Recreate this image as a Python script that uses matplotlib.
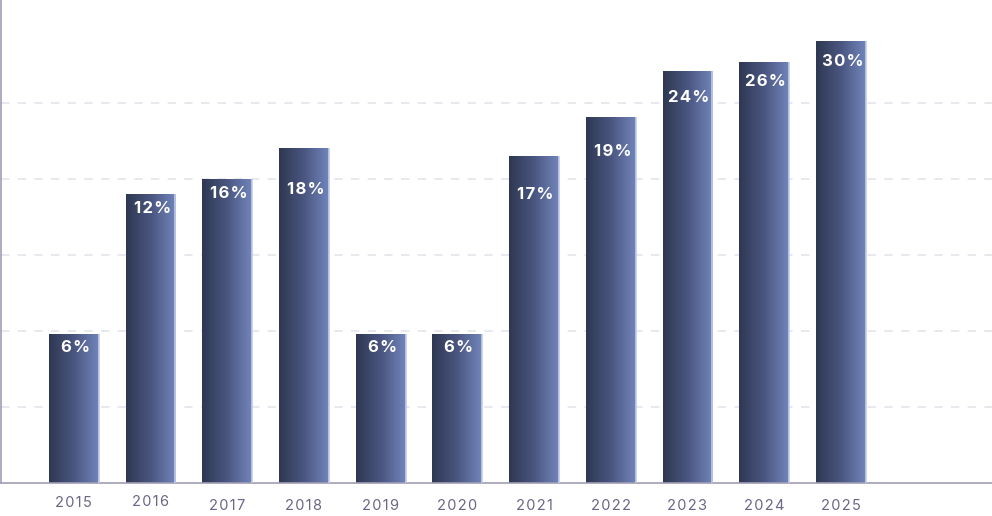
import numpy as np
import matplotlib.pyplot as plt
from matplotlib.colors import LinearSegmentedColormap

# data
years = ["2015", "2016", "2017", "2018", "2019", "2020",
         "2021", "2022", "2023", "2024", "2025"]
bar_heights = [1.96, 3.80, 4.0, 4.41, 1.96, 1.96, 4.30, 4.82, 5.42, 5.55, 5.82]
bar_labels = ["6%", "12%", "16%", "18%", "6%", "6%",
              "17%", "19%", "24%", "26%", "30%"]

# where the labels sit (the source places them unevenly)
label_y = [1.78, 3.62, 3.81, 3.87, 1.78, 1.78, 3.80, 4.37, 5.08, 5.29, 5.55]
tick_y = [-0.26, -0.25, -0.30, -0.30, -0.30, -0.30, -0.30, -0.30, -0.30, -0.30, -0.30]

plt.rcParams['font.family'] = ['Inter', 'DejaVu Sans']

fig = plt.figure(figsize=(9.92, 5.16), dpi=100)
ax = fig.add_axes([1 / 992, 33 / 516, 991 / 992, 483 / 516])

cmap = LinearSegmentedColormap.from_list("bar", ["#2e3852", "#4a5680", "#7185bb"])
grad = np.linspace(0, 1, 256).reshape(1, -1)

x = np.arange(len(years))
width = 0.65
bars = ax.bar(x, bar_heights, width=width, color="none", edgecolor="none", zorder=2)

for b, lab, ly in zip(bars, bar_labels, label_y):
    x0, w, h = b.get_x(), b.get_width(), b.get_height()
    im = ax.imshow(grad, extent=[x0, x0 + w, 0, h], aspect="auto",
                   cmap=cmap, zorder=2, interpolation="bilinear")
    im.set_clip_path(b)
    # thin light edge on the right side
    ax.plot([x0 + w, x0 + w], [0, h], color="#c3cbe8", lw=1.2, zorder=3,
            solid_capstyle="butt")
    txt = "\u200a".join(lab)
    ax.text(x0 + w / 2 + 0.02, ly, txt, color="white", fontsize=12,
            fontweight="bold", ha="center", va="center", zorder=4)

# dashed grid
for gy in [1, 2, 3, 4, 5]:
    ax.axhline(gy, color="#e4e4ec", lw=1.2, ls=(0, (5, 5)), zorder=1)

ax.set_xlim(-0.95, len(years) - 1 + 1.97)
ax.set_ylim(0, 6.36)

for s in ["top", "right"]:
    ax.spines[s].set_visible(False)
for s in ["left", "bottom"]:
    ax.spines[s].set_color("#a29db5")
    ax.spines[s].set_linewidth(1.2)

ax.set_yticks([])
ax.set_xticks(x)
ax.set_xticklabels([])
ax.tick_params(axis="x", length=0)

# year labels, slightly staggered as in the original
for xi, yr, off in zip(x, years, tick_y):
    ax.text(xi, off, "\u200a".join(yr), color="#6b6686", fontsize=10.5,
            ha="center", va="center", clip_on=False)

fig.savefig("out.png", dpi=100)
